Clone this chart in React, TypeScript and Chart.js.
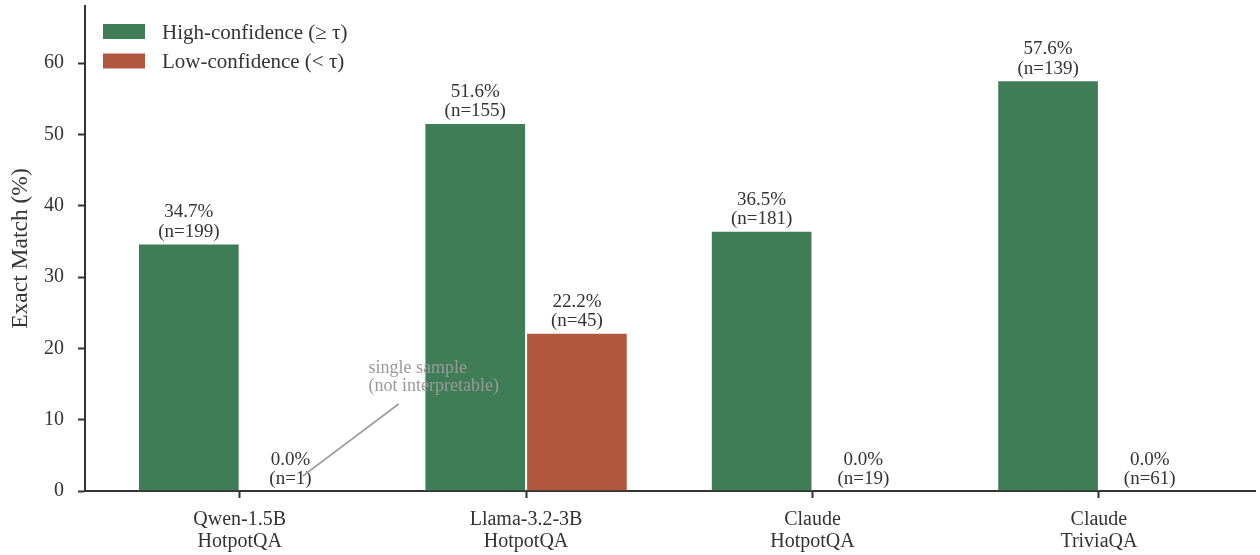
import React, { useEffect, useRef } from "react";
import { Chart, registerables } from "chart.js";

Chart.register(...registerables);

const categories: string[][] = [
  ["Qwen-1.5B", "HotpotQA"],
  ["Llama-3.2-3B", "HotpotQA"],
  ["Claude", "HotpotQA"],
  ["Claude", "TriviaQA"],
];
const highValues = [34.7, 51.6, 36.5, 57.6];
const lowValues = [0.0, 22.2, 0.0, 0.0];
const highN = [199, 155, 181, 139];
const lowN = [1, 45, 19, 61];
const yTicks = [0, 10, 20, 30, 40, 50, 60];
const seriesNames = ["High-confidence (\u2265 \u03c4)", "Low-confidence (< \u03c4)"];
const annotationLines = ["single sample", "(not interpretable)"];

const GREEN = "#3f7d56";
const RED = "#b0573e";
const INK = "#333333";
const FONT = "'Liberation Serif', 'DejaVu Serif', serif";

export default function App() {
  const ref = useRef<HTMLCanvasElement | null>(null);

  useEffect(() => {
    const canvas = ref.current;
    if (!canvas) return;

    const overlay = {
      id: "overlay",
      afterDatasetsDraw(chart: any) {
        const ctx = chart.ctx;
        const xs = chart.scales.x;
        const ys = chart.scales.y;
        ctx.save();
        // value labels
        ctx.font = `19px ${FONT}`;
        ctx.fillStyle = INK;
        ctx.textAlign = "center";
        ctx.textBaseline = "middle";
        const drawLabel = (dsIndex: number, i: number, v: number, n: number) => {
          const el = chart.getDatasetMeta(dsIndex).data[i];
          const x = el.x;
          const y = ys.getPixelForValue(v) - 11.5;
          ctx.fillText(`(n=${n})`, x, y);
          ctx.fillText(`${v.toFixed(1)}%`, x, y - 19.5);
        };
        highValues.forEach((v, i) => drawLabel(0, i, v, highN[i]));
        lowValues.forEach((v, i) => drawLabel(1, i, v, lowN[i]));

        // annotation
        ctx.strokeStyle = "#999999";
        ctx.lineWidth = 1.6;
        ctx.beginPath();
        ctx.moveTo(xs.getPixelForValue(0.555), ys.getPixelForValue(12.2));
        ctx.lineTo(xs.getPixelForValue(0.22), ys.getPixelForValue(2.1));
        ctx.stroke();
        ctx.font = `18px ${FONT}`;
        ctx.fillStyle = "#9a9a9a";
        ctx.textAlign = "left";
        ctx.textBaseline = "middle";
        const ax = xs.getPixelForValue(0.45);
        const ay = ys.getPixelForValue(17.25);
        annotationLines.forEach((t, k) => ctx.fillText(t, ax, ay + k * 18.5));

        // legend
        const colors = [GREEN, RED];
        ctx.font = `21px ${FONT}`;
        seriesNames.forEach((name, k) => {
          const cy = 32 + k * 29.5;
          ctx.fillStyle = colors[k];
          ctx.fillRect(103, cy - 8, 42, 15);
          ctx.fillStyle = INK;
          ctx.fillText(name, 162, cy + 1);
        });
        ctx.restore();
      },
    };

    const chart = new Chart(canvas, {
      type: "bar",
      data: {
        datasets: [
          {
            label: seriesNames[0],
            data: highValues.map((v, i) => ({ x: i, y: v })),
            backgroundColor: GREEN,
            borderColor: "rgba(255,255,255,0.6)",
            borderWidth: 1,
          },
          {
            label: seriesNames[1],
            data: lowValues.map((v, i) => ({ x: i, y: v })),
            backgroundColor: RED,
            borderColor: "rgba(255,255,255,0.6)",
            borderWidth: 1,
          },
        ],
      },
      options: {
        animation: false,
        responsive: false,
        maintainAspectRatio: false,
        layout: { padding: { top: 6, right: 5, left: 0, bottom: 0 } },
        datasets: { bar: { categoryPercentage: 0.71, barPercentage: 1.0 } },
        plugins: { legend: { display: false }, tooltip: { enabled: false } },
        scales: {
          x: {
            type: "linear",
            min: -0.54,
            max: 3.545,
            offset: false,
            afterBuildTicks: (s: any) => {
              s.ticks = categories.map((_, i) => ({ value: i }));
            },
            afterFit: (s: any) => {
              s.height = 64;
              s.paddingLeft = 0;
              s.paddingRight = 0;
            },
            grid: {
              display: true,
              offset: false,
              drawOnChartArea: false,
              drawTicks: true,
              tickLength: 7,
              tickWidth: 2,
              color: INK,
            },
            border: { display: true, color: INK, width: 2 },
            ticks: {
              autoSkip: false,
              maxRotation: 0,
              padding: 11,
              color: INK,
              font: { family: FONT, size: 20, lineHeight: 1.1 },
              callback: (v: any) => categories[Math.round(Number(v))] ?? "",
            },
          },
          y: {
            min: 0,
            max: 68,
            afterBuildTicks: (s: any) => {
              s.ticks = yTicks.map((v) => ({ value: v }));
            },
            afterFit: (s: any) => {
              s.width = 85;
              s.paddingTop = 0;
              s.paddingBottom = 0;
            },
            grid: {
              display: true,
              offset: false,
              drawOnChartArea: false,
              drawTicks: true,
              tickLength: 7,
              tickWidth: 2,
              color: INK,
            },
            border: { display: true, color: INK, width: 2 },
            ticks: {
              padding: 14,
              color: INK,
              font: { family: FONT, size: 20 },
            },
            title: {
              display: true,
              text: "Exact Match (%)",
              color: INK,
              font: { family: FONT, size: 23.5 },
              padding: { top: 7, bottom: 0 },
            },
          },
        },
      },
      plugins: [overlay],
    } as any);

    return () => chart.destroy();
  }, []);

  return (
    <div style={{ position: "fixed", left: 0, top: 0, width: 1260, height: 555, background: "#fff" }}>
      <canvas ref={ref} width={1260} height={555} style={{ width: 1260, height: 555 }} />
    </div>
  );
}
